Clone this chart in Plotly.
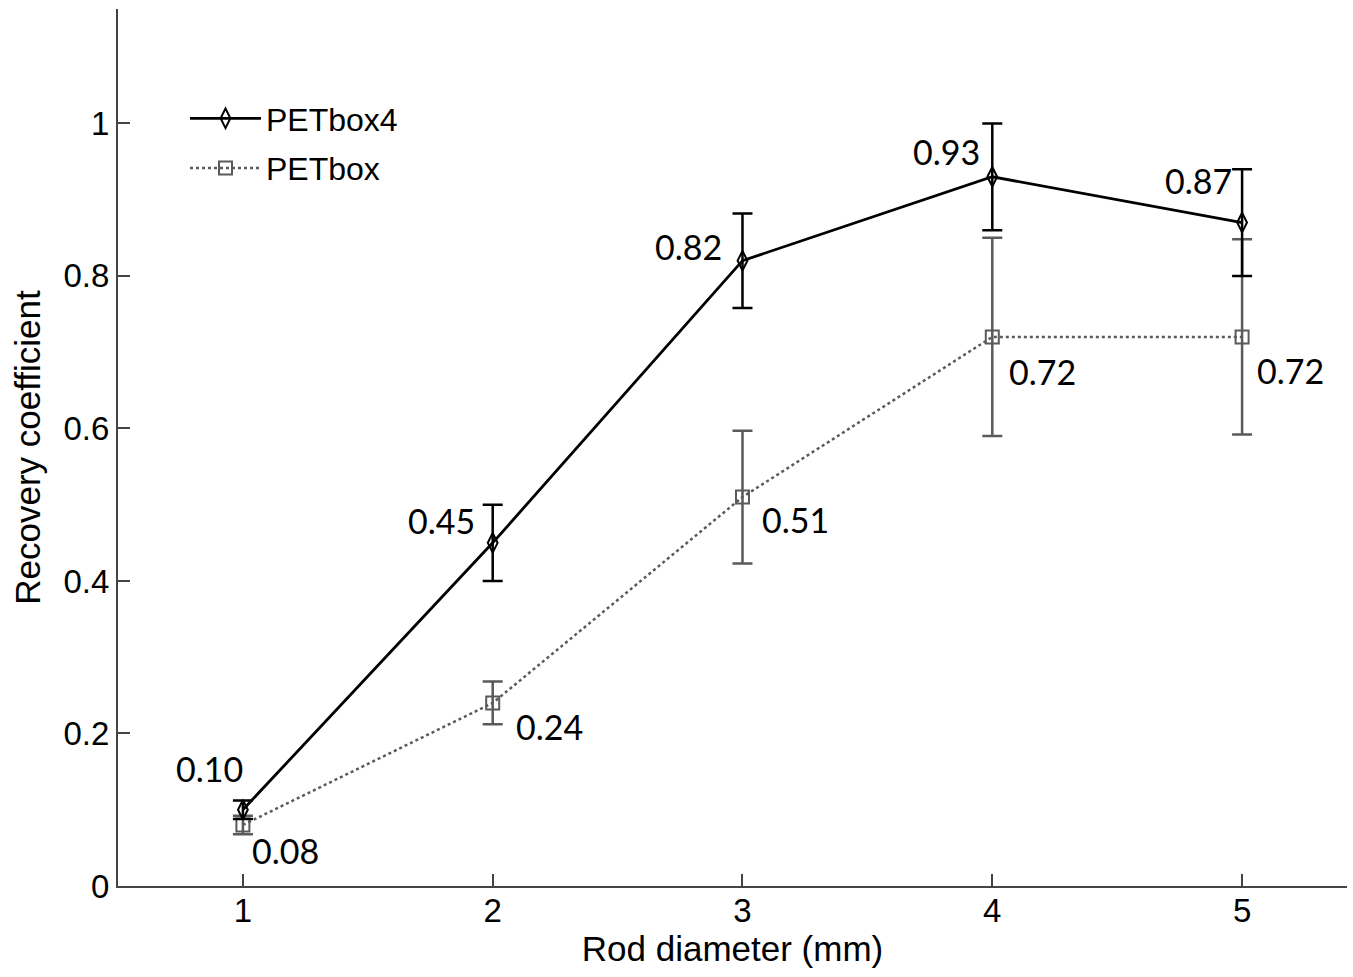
import plotly.graph_objects as go

# ---- data ----
rod_diameter = [1, 2, 3, 4, 5]
petbox4_rc = [0.10, 0.45, 0.82, 0.93, 0.87]
petbox4_err = [0.012, 0.05, 0.062, 0.07, 0.07]
petbox_rc = [0.08, 0.24, 0.51, 0.72, 0.72]
petbox_err = [0.012, 0.028, 0.087, 0.13, 0.128]
y_ticks = [0, 0.2, 0.4, 0.6, 0.8, 1.0]
y_ticktext = ["0", "0.2", "0.4", "0.6", "0.8", "1"]
x_ticks = [1, 2, 3, 4, 5]

# label offsets (pixels) - styling only
petbox4_label_shift = [(2, 41), (-16, 22), (-18, 14), (-10, 25), (-8, 42)]
petbox_label_shift = [(7, -26), (21, -24), (18, -22), (15, -35), (13, -34)]

GREY = "#5a5a5a"
FONT = "Liberation Sans, Arial"

fig = go.Figure()

fig.add_trace(go.Scatter(
    x=rod_diameter, y=petbox_rc, name="PETbox", mode="lines+markers",
    line=dict(color=GREY, width=2.5, dash="dot"),
    marker=dict(symbol="square-open", size=13, color=GREY, line=dict(width=2, color=GREY)),
    error_y=dict(type="data", array=petbox_err, visible=True, color=GREY, thickness=2.5, width=10),
    legendrank=2, legendgroup="b",
))
fig.add_trace(go.Scatter(
    x=rod_diameter, y=petbox4_rc, name="PETbox4", mode="lines+markers",
    line=dict(color="black", width=2.8),
    marker=dict(symbol="diamond-tall-open", size=14, color="black", line=dict(width=2, color="black")),
    error_y=dict(type="data", array=petbox4_err, visible=True, color="black", thickness=2.5, width=10),
    legendrank=1, legendgroup="a",
))

annotations = []
for xv, yv, (dx, dy) in zip(rod_diameter, petbox4_rc, petbox4_label_shift):
    annotations.append(dict(x=xv, y=yv, text=f"{yv:.2f}", showarrow=False,
                            xanchor="right", yanchor="middle", xshift=dx, yshift=dy,
                            font=dict(family="Lato", size=34, color="black")))
for xv, yv, (dx, dy) in zip(rod_diameter, petbox_rc, petbox_label_shift):
    annotations.append(dict(x=xv, y=yv, text=f"{yv:.2f}", showarrow=False,
                            xanchor="left", yanchor="middle", xshift=dx, yshift=dy,
                            font=dict(family="Lato", size=34, color="black")))

axis_common = dict(showline=True, linecolor="#444", linewidth=2, ticks="inside",
                   ticklen=12, tickwidth=1.5, tickcolor="#444", showgrid=False,
                   zeroline=False, mirror=False,
                   tickfont=dict(family=FONT, size=33, color="black"))

fig.update_layout(
    width=1353, height=977,
    margin=dict(l=118, r=6, t=9, b=91),
    paper_bgcolor="white", plot_bgcolor="white",
    xaxis=dict(range=[0.5, 5.42], tickvals=x_ticks, ticklabelstandoff=-6,
               title=dict(text="Rod diameter (mm)", standoff=6,
                          font=dict(family=FONT, size=35, color="black")),
               **axis_common),
    yaxis=dict(range=[0, 1.15], tickvals=y_ticks, ticktext=y_ticktext,
               title=dict(text="Recovery coefficient", standoff=12,
                          font=dict(family=FONT, size=35, color="black")),
               **axis_common),
    legend=dict(x=(185 - 118) / 1229, y=0.9065, xanchor="left", yanchor="top",
                bgcolor="rgba(0,0,0,0)", borderwidth=0, itemwidth=71,
                font=dict(family=FONT, size=32, color="black"),
                tracegroupgap=5),
    annotations=annotations,
    showlegend=True,
)

fig.write_html("out.html")
